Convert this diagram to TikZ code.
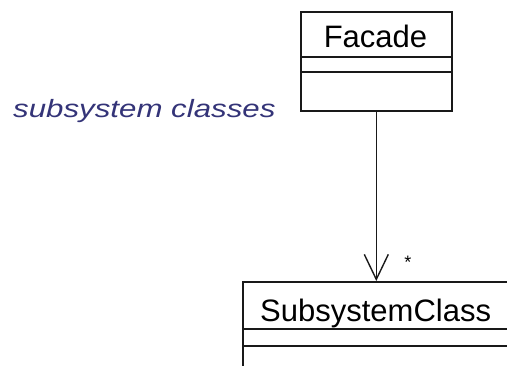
\documentclass[tikz,border=0pt]{standalone}
\usepackage{fontspec}
\setmainfont{Liberation Sans}
\usetikzlibrary{arrows.meta}
\definecolor{notecolor}{RGB}{52,52,120}
\definecolor{linecolor}{RGB}{25,25,25}
\begin{document}
\begin{tikzpicture}[x=1pt,y=-1pt,
  classbox/.style={draw=linecolor,line width=1.6pt,inner sep=0pt},
  classname/.style={font=\fontsize{31}{31}\selectfont,inner sep=0pt,anchor=base},
  assoc/.style={draw=linecolor,line width=1.4pt,-{Straight Barb[length=25pt,width=24pt,line width=1.4pt]}},
  notetext/.style={font=\fontsize{25}{25}\selectfont\itshape,text=notecolor,inner sep=0pt,anchor=base west}]
\useasboundingbox[fill=white] (0,0) rectangle (507,365);

% Facade class with two empty compartments
\node[classbox,minimum width=151pt,minimum height=99pt,anchor=north west] (facade) at (300,11) {};
\draw[linecolor,line width=1.6pt] (300,57) -- (451,57) (300,72) -- (451,72);
\node[classname] (facadename) at (375.5,47) {Facade};

% SubsystemClass box running past the right and bottom edges
\node[classbox,minimum width=290pt,minimum height=120pt,anchor=north west] (sub) at (242,281) {};
\draw[linecolor,line width=1.6pt] (242,329) -- (532,329) (242,346) -- (532,346);
\node[classname,anchor=base west] (subname) at (260,321) {SubsystemClass};

% Navigable association with multiplicity
\coordinate (tip) at (facade.south |- sub.north);
\draw[assoc] (facade.south) -- (tip);
\node[font=\fontsize{18}{18}\selectfont,inner sep=0pt] (mult) at (408,262) {*};

% Side note
\node[notetext] (note) at (13,117) {\scalebox{1.25}[1]{subsystem classes}};
\end{tikzpicture}
\end{document}
